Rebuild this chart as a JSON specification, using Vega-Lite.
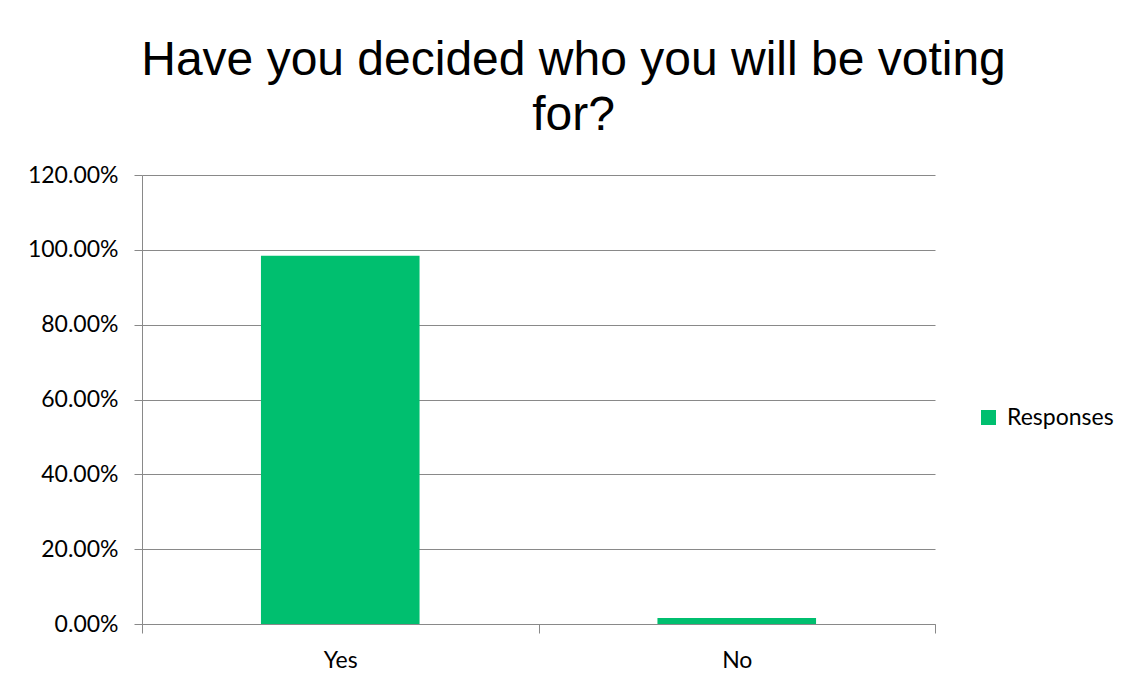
{
  "$schema": "https://vega.github.io/schema/vega-lite/v6.json",
  "autosize": "none",
  "width": 793,
  "height": 449,
  "padding": {"left": 142, "top": 175, "right": 194, "bottom": 61},
  "background": "white",
  "title": {
    "text": ["Have you decided who you will be voting", "for?"],
    "font": "Liberation Sans",
    "fontSize": 48,
    "fontWeight": "normal",
    "color": "black",
    "lineHeight": 55,
    "anchor": "middle",
    "frame": "group",
    "dx": 35,
    "offset": 24
  },
  "data": {
    "values": [
      {"answer": "Yes", "share": 0.984, "series": "Responses"},
      {"answer": "No", "share": 0.016, "series": "Responses"}
    ]
  },
  "mark": {"type": "bar", "color": "#00BF6F", "width": {"band": 0.4}},
  "encoding": {
    "x": {
      "field": "answer",
      "type": "nominal",
      "sort": ["Yes", "No"],
      "scale": {"paddingInner": 0, "paddingOuter": 0},
      "axis": {
        "title": null,
        "labelAngle": 0,
        "labelFont": "Lato",
        "labelFontSize": 23,
        "labelColor": "black",
        "labelBaseline": "alphabetic",
        "labelPadding": 34,
        "tickBand": "extent",
        "tickSize": 9,
        "tickColor": "#898989",
        "domainColor": "#898989",
        "grid": false
      }
    },
    "y": {
      "field": "share",
      "type": "quantitative",
      "scale": {"domain": [0, 1.2], "nice": false},
      "axis": {
        "title": null,
        "values": [0, 0.2, 0.4, 0.6, 0.8, 1.0, 1.2],
        "format": ".2%",
        "labelFont": "Lato",
        "labelFontSize": 23,
        "labelColor": "black",
        "labelPadding": 16,
        "tickSize": 8,
        "tickColor": "#898989",
        "domainColor": "#898989",
        "gridColor": "#898989",
        "grid": true
      }
    },
    "fill": {
      "field": "series",
      "type": "nominal",
      "scale": {"range": ["#00BF6F"]},
      "legend": {
        "title": null,
        "orient": "none",
        "legendX": 835,
        "legendY": 231,
        "symbolType": "square",
        "symbolSize": 225,
        "symbolStrokeWidth": 0,
        "labelFont": "Lato",
        "labelFontSize": 23,
        "labelColor": "black",
        "labelOffset": 7
      }
    }
  },
  "config": {
    "view": {"stroke": null}
  }
}
